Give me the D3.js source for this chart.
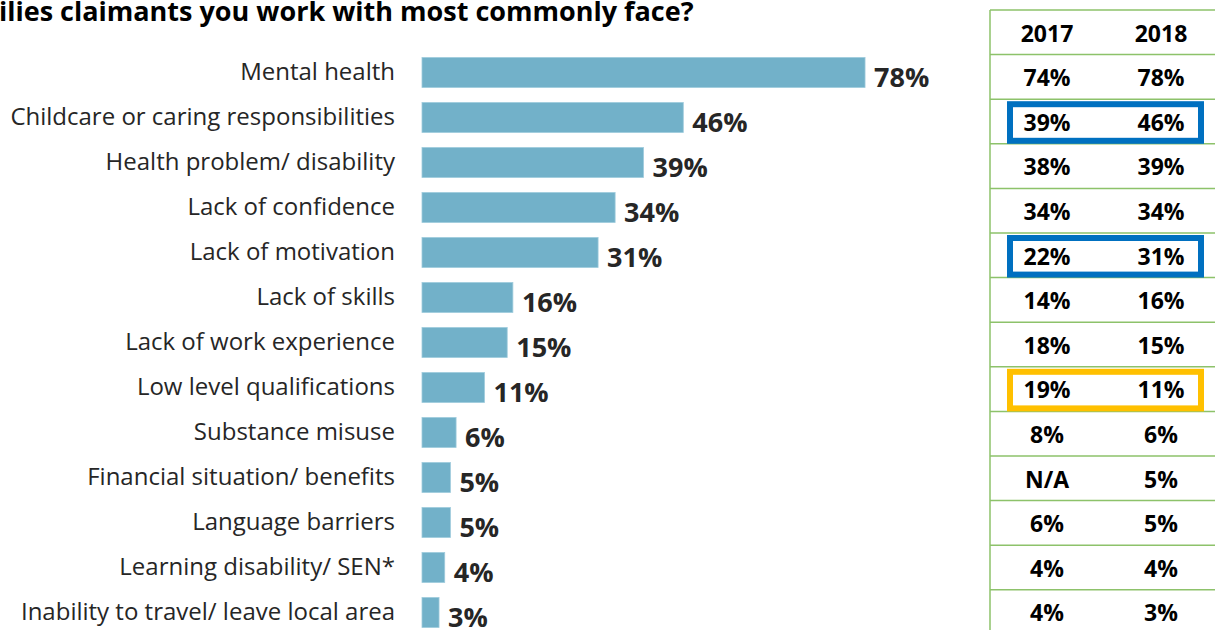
<!DOCTYPE html>
<html>
<head>
<meta charset="utf-8">
<script src="https://cdn.jsdelivr.net/npm/d3@7"></script>
<style>
  html, body { margin: 0; padding: 0; background: #fff; }
  svg { display: block; }
</style>
</head>
<body>
<svg id="chart" width="1215" height="630"></svg>
<script>
// Barriers faced by claimants, share of respondents (%)
const categories = [
  "Mental health",
  "Childcare or caring responsibilities",
  "Health problem/ disability",
  "Lack of confidence",
  "Lack of motivation",
  "Lack of skills",
  "Lack of work experience",
  "Low level qualifications",
  "Substance misuse",
  "Financial situation/ benefits",
  "Language barriers",
  "Learning disability/ SEN*",
  "Inability to travel/ leave local area"
];
const values2018 = [78, 46, 39, 34, 31, 16, 15, 11, 6, 5, 5, 4, 3];
const values2017 = ["74%", "39%", "38%", "34%", "22%", "14%", "18%", "19%", "8%", "N/A", "6%", "4%", "4%"];
const years = ["2017", "2018"];
// rows called out in the comparison table
const highlights = [
  { row: 1, color: "#0070C0" },
  { row: 4, color: "#0070C0" },
  { row: 7, color: "#FFC000" }
];
const titleText = "ilies claimants you work with most commonly face?";

const svg = d3.select("#chart");

// title
svg.append("text")
  .attr("x", -1)
  .attr("y", 21)
  .attr("font-family", "'Open Sans', sans-serif")
  .attr("font-weight", 700)
  .attr("font-size", 27)
  .attr("fill", "#000")
  .text(titleText);

// bar chart
const x = d3.scaleLinear().domain([0, 100]).range([422, 990]);
const y = d3.scaleBand().domain(categories).range([50, 635])
  .paddingInner(1 / 3).paddingOuter(1 / 6);

const rows = categories.map((c, i) => ({ cat: c, v: values2018[i] }));

svg.append("g").selectAll("rect").data(rows).join("rect")
  .attr("x", x(0))
  .attr("y", d => y(d.cat))
  .attr("width", d => x(d.v) - x(0))
  .attr("height", y.bandwidth())
  .attr("fill", "#72B1C9")
  .attr("stroke", "#9fcbdc")
  .attr("stroke-width", 0.8);

svg.append("g").selectAll("text").data(rows).join("text")
  .attr("x", x(0) - 27)
  .attr("y", d => y(d.cat) + y.bandwidth() / 2)
  .attr("dy", "0.33em")
  .attr("text-anchor", "end")
  .attr("font-family", "'Open Sans', sans-serif")
  .attr("font-size", 24)
  .attr("fill", "#262626")
  .text(d => d.cat);

svg.append("g").selectAll("text").data(rows).join("text")
  .attr("x", d => x(d.v) + 9)
  .attr("y", d => y(d.cat) + y.bandwidth() - 1)
  .attr("font-family", "'Open Sans', sans-serif")
  .attr("font-weight", 700)
  .attr("font-size", 27)
  .attr("fill", "#262626")
  .text(d => d.v + "%");

// comparison table
const tableRows = [years].concat(categories.map((c, i) => [values2017[i], values2018[i] + "%"]));
const ty = d3.scaleBand().domain(d3.range(tableRows.length)).range([10, 10 + 44.6 * tableRows.length]);
const tx = d3.scalePoint().domain(years).range([1047, 1161]);
const tableLeft = 990, tableRight = 1215;
const green = "#8DC26A";

const table = svg.append("g");

table.selectAll("line.h").data(d3.range(tableRows.length + 1)).join("line")
  .attr("class", "h")
  .attr("x1", tableLeft).attr("x2", tableRight)
  .attr("y1", d => 10 + d * ty.step()).attr("y2", d => 10 + d * ty.step())
  .attr("stroke", green).attr("stroke-width", 1.5);

table.append("line")
  .attr("x1", tableLeft).attr("x2", tableLeft)
  .attr("y1", 10).attr("y2", 630)
  .attr("stroke", green).attr("stroke-width", 1.5);

table.selectAll("rect.hl").data(highlights).join("rect")
  .attr("class", "hl")
  .attr("x", 1010)
  .attr("y", d => ty(d.row + 1) + 5)
  .attr("width", 191)
  .attr("height", ty.bandwidth() - 8)
  .attr("fill", "none")
  .attr("stroke", d => d.color)
  .attr("stroke-width", 6);

tableRows.forEach((r, i) => {
  table.selectAll(null).data(r).enter().append("text")
    .attr("x", (d, j) => tx(years[j]))
    .attr("y", ty(i) + ty.bandwidth() / 2 + 1)
    .attr("dy", "0.36em")
    .attr("text-anchor", "middle")
    .attr("font-family", "'Open Sans', sans-serif")
    .attr("font-weight", 700)
    .attr("font-size", 23)
    .attr("fill", "#000")
    .text(d => d);
});
</script>
</body>
</html>
